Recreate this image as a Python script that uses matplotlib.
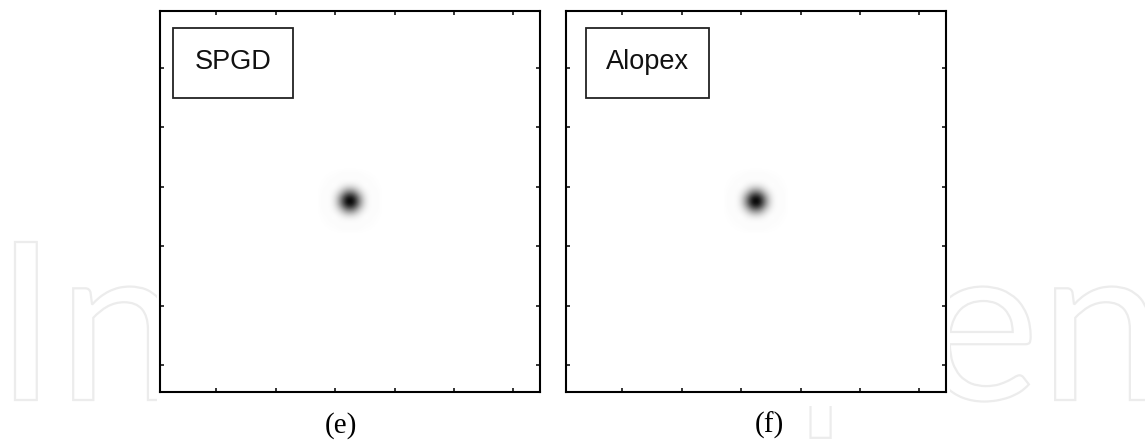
import numpy as np
import matplotlib
matplotlib.use("Agg")
import matplotlib.pyplot as plt
from matplotlib.patches import Rectangle, PathPatch
from matplotlib.textpath import TextPath
from matplotlib.font_manager import FontProperties
from matplotlib.transforms import Affine2D

# far-field intensity around the focus (10x10 pixels, normalised to peak)
spot_spgd = np.array([
    [0.00, 0.005, 0.01, 0.02, 0.02, 0.02, 0.02, 0.01, 0.005, 0.00],
    [0.005, 0.015, 0.015, 0.01, 0.00, 0.00, 0.01, 0.015, 0.015, 0.005],
    [0.01, 0.015, 0.00, 0.04, 0.10, 0.10, 0.04, 0.00, 0.015, 0.01],
    [0.02, 0.01, 0.04, 0.22, 0.50, 0.50, 0.22, 0.04, 0.01, 0.02],
    [0.02, 0.00, 0.10, 0.50, 1.00, 1.00, 0.50, 0.10, 0.00, 0.02],
    [0.02, 0.00, 0.10, 0.50, 1.00, 1.00, 0.50, 0.10, 0.00, 0.02],
    [0.02, 0.01, 0.04, 0.22, 0.50, 0.50, 0.22, 0.04, 0.01, 0.02],
    [0.01, 0.015, 0.00, 0.04, 0.10, 0.10, 0.04, 0.00, 0.015, 0.01],
    [0.005, 0.015, 0.015, 0.01, 0.00, 0.00, 0.01, 0.015, 0.015, 0.005],
    [0.00, 0.005, 0.01, 0.02, 0.02, 0.02, 0.02, 0.01, 0.005, 0.00],
])
spot_alopex = spot_spgd.copy()

grid_size = 64
spot_origin = 27          # first row/col of the spot in the 64x64 frame
methods = ["SPGD", "Alopex"]
captions = ["(e)", "(f)"]
ticks = [10, 20, 30, 40, 50, 60]


def frame(spot):
    img = np.zeros((grid_size, grid_size))
    n = spot.shape[0]
    img[spot_origin:spot_origin + n, spot_origin:spot_origin + n] = spot
    return img


W, H = 1145, 440
fig = plt.figure(figsize=(W / 100, H / 100), dpi=100)
fig.patch.set_facecolor("white")

panel_left = [160, 566]

# faint outlined watermark behind the panels
bg = fig.add_axes([0, 0, 1, 1], zorder=0)
bg.set_xlim(0, W)
bg.set_ylim(0, H)
bg.axis("off")
prop = FontProperties(family="Lato")
tp = TextPath((0, 0), "IntechOpen", size=1, prop=prop)
cap = TextPath((0, 0), "I", size=1, prop=prop).get_extents()
ext = tp.get_extents()
sx = (1150 - 15) / ext.width
sy = 158 / cap.height
tr = Affine2D().translate(-ext.x0, 0).scale(sx, sy).translate(15, H - 400)
bg.add_patch(PathPatch(tr.transform_path(tp), facecolor="none",
                       edgecolor="#ececec", lw=1.6, zorder=1))
# white backing behind both panels hides the watermark there
bg.add_patch(Rectangle((157, H - 406), 793, 400, facecolor="white",
                       edgecolor="none", zorder=2))

for k, (name, spot, cap_txt) in enumerate(zip(methods, [spot_spgd, spot_alopex], captions)):
    ax = fig.add_axes([panel_left[k] / W, 1 - 392 / H, 380 / W, 381 / H], zorder=1)
    ax.set_facecolor("white")
    ax.imshow(frame(spot), cmap="gray_r", vmin=0, vmax=1,
              extent=(0.5, 64.5, 64.5, 0.5), aspect="auto",
              interpolation="bicubic")
    ax.set_xlim(0.5, 64.5)
    ax.set_ylim(64.5, 0.5)
    ax.set_xticks(ticks)
    ax.set_yticks(ticks)
    ax.tick_params(direction="in", length=3, width=1.1, color="black",
                   top=True, right=True, labelbottom=False, labelleft=False)
    for s in ax.spines.values():
        s.set_linewidth(1.5)
        s.set_color("black")

    # label box in the upper-left corner
    bx0 = (173 if k == 0 else 586) - panel_left[k]
    bx1 = (293 if k == 0 else 709) - panel_left[k]
    ax.add_patch(Rectangle((bx0 / 380, 1 - 98 / 381 + 11 / 381), (bx1 - bx0) / 380, 70 / 381,
                           transform=ax.transAxes, facecolor="white",
                           edgecolor="#222222", lw=1.3, zorder=5))
    ax.text((bx0 + bx1) / 2 / 380, 1 - (69 - 11) / 381, name,
            transform=ax.transAxes, ha="center", va="baseline",
            fontsize=19.5, family="Liberation Sans", color="#111111", zorder=6)

    cx = 341 if k == 0 else 769
    fig.text(cx / W, 1 - 433 / H, cap_txt, ha="center", va="baseline",
             fontsize=21, family="Liberation Serif", color="black")

fig.savefig("out.png", dpi=100)
